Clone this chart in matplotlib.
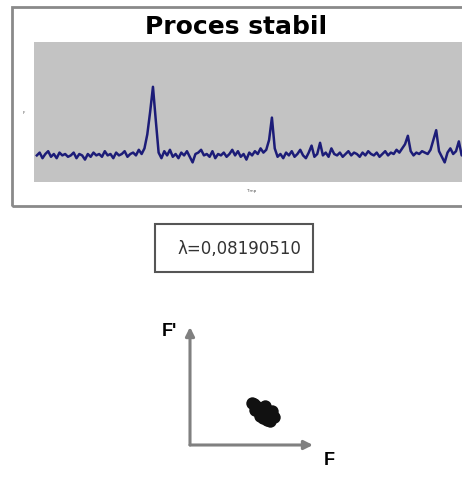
import matplotlib
matplotlib.use('Agg')
import matplotlib.pyplot as plt
from matplotlib.patches import Rectangle

W, H = 462, 481

TITLE = 'Proces stabil'
LAMBDA_TEXT = 'λ=0,08190510'

# signal (arbitrary units), one value per sample
signal = [
    19, 21, 17, 20, 22, 18, 20, 17, 21, 19,
    20, 18, 19, 21, 17, 20, 19, 16, 20, 18,
    21, 19, 20, 18, 22, 19, 20, 17, 21, 19,
    20, 22, 18, 20, 21, 19, 23, 20, 24, 34,
    50, 68, 44, 21, 17, 22, 19, 23, 18, 20,
    17, 21, 19, 22, 18, 14, 20, 21, 23, 19,
    20, 18, 22, 17, 20, 19, 21, 18, 20, 23,
    19, 22, 18, 20, 16, 21, 19, 22, 20, 24,
    21, 23, 30, 46, 24, 18, 20, 17, 21, 19,
    22, 18, 20, 23, 19, 17, 21, 26, 18, 20,
    28, 19, 21, 18, 24, 20, 19, 21, 18, 20,
    22, 19, 21, 20, 18, 21, 19, 22, 20, 19,
    21, 18, 20, 22, 19, 21, 20, 23, 21, 24,
    27, 33, 22, 19, 21, 20, 22, 21, 20, 23,
    30, 37, 22, 18, 14, 21, 24, 20, 22, 29,
    19, 21,
]

# phase portrait cluster (F, F')
F_vals = [5.0, 5.2, 5.4, 5.3, 5.6, 5.8, 6.0, 6.2, 6.4, 6.6, 6.8, 5.9, 6.3, 6.7, 6.1, 5.7, 6.5]
dF_vals = [3.6, 3.5, 3.3, 3.0, 2.8, 3.1, 2.6, 2.9, 2.5, 2.7, 2.4, 2.3, 2.1, 2.9, 3.3, 2.5, 2.0]


def px_axes(fig, x0, y0, x1, y1):
    return fig.add_axes([x0 / W, 1 - y1 / H, (x1 - x0) / W, (y1 - y0) / H])


fig = plt.figure(figsize=(W / 100, H / 100), dpi=100)
fig.patch.set_facecolor('white')

# outer frame of the chart
fig.patches.append(Rectangle((12 / W, 1 - 207 / H), 470 / W, 199 / H,
                             transform=fig.transFigure, fill=False,
                             edgecolor='#8a8a8a', linewidth=2))
fig.text(236 / W, 1 - 27 / H, TITLE, ha='center', va='center',
         fontsize=18, fontweight='heavy', family='DejaVu Sans')

ax = px_axes(fig, 34, 43, 490, 183)
ax.set_facecolor('#c3c3c3')
ax.plot(range(len(signal)), signal, color='#1c1c78', linewidth=1.8)
ax.set_xlim(-1, 160)
ax.set_ylim(0, 100)
ax.set_xticks([])
ax.set_yticks([])
for s in ax.spines.values():
    s.set_visible(False)
fig.text(251 / W, 1 - 191 / H, 'Timp', ha='center', va='center',
         fontsize=3, color='#555555')
fig.text(24 / W, 1 - 113 / H, 'F', ha='center', va='center',
         fontsize=3, color='#555555')

# lambda box
fig.patches.append(Rectangle((155 / W, 1 - 273 / H), 158 / W, 48 / H,
                             transform=fig.transFigure, fill=False,
                             edgecolor='#555555', linewidth=1.5))
fig.text(239 / W, 1 - 249 / H, LAMBDA_TEXT, ha='center', va='center',
         fontsize=12, family='Liberation Sans Narrow', color='#333333')

# phase plot
ax2 = px_axes(fig, 190, 328, 313, 446)
ax2.set_xlim(0, 10)
ax2.set_ylim(0, 10)
ax2.axis('off')
ax2.scatter(F_vals, dF_vals, s=80, color='#111111', marker='o', linewidths=0)
ax2.annotate('', xy=(1.0, 0), xytext=(0, 0), xycoords='axes fraction',
             arrowprops=dict(arrowstyle='-|>', color='#808080', lw=2.2,
                             mutation_scale=13, shrinkA=0, shrinkB=0))
ax2.annotate('', xy=(0, 1.0), xytext=(0, 0), xycoords='axes fraction',
             arrowprops=dict(arrowstyle='-|>', color='#808080', lw=2.2,
                             mutation_scale=13, shrinkA=0, shrinkB=0))
fig.text(169 / W, 1 - 332 / H, "F'", ha='center', va='center',
         fontsize=13, fontweight='bold', family='Liberation Sans')
fig.text(329 / W, 1 - 461 / H, 'F', ha='center', va='center',
         fontsize=13, fontweight='bold', family='Liberation Sans')

fig.savefig('out.png', dpi=100)
